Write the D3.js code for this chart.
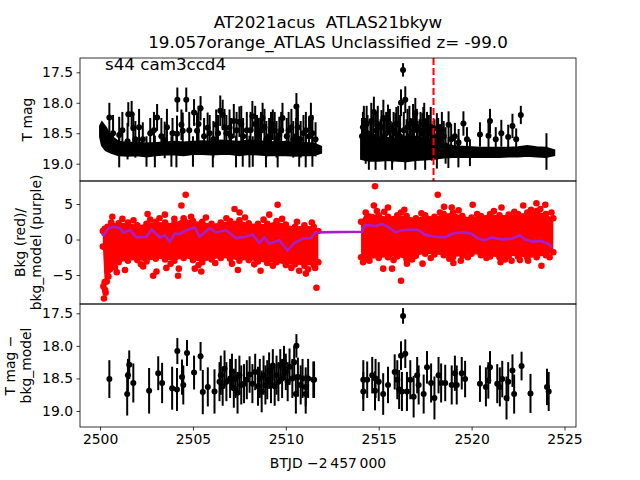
<!DOCTYPE html>
<html>
<head>
<meta charset="utf-8">
<script src="https://cdn.jsdelivr.net/npm/d3@7"></script>
<style>
  body { margin: 0; background: #fff; }
  text { font-family: "DejaVu Sans", sans-serif; white-space: pre; }
</style>
</head>
<body>
<div id="chart"></div>
<script>
// ---- data ----
const titleLines = ["AT2021acus  ATLAS21bkyw", "19.057orange_ATLAS Unclassified z= -99.0"];
const sectorLabel = "s44 cam3ccd4";
const discoveryT = 2517.95;
const xTicks = [2500, 2505, 2510, 2515, 2520, 2525];
const magTicks = [17.5, 18.0, 18.5, 19.0];
const bkgTicks = [-5, 0, 5];

// top panel: dense baseline of the light curve [btjd, faint edge, bright edge]
const magBand = [
  [2500.0, 18.56, 18.38], [2500.1, 18.70, 18.32], [2500.3, 18.78, 18.40], [2500.6, 18.82, 18.55],
  [2501.0, 18.86, 18.64], [2501.5, 18.87, 18.66], [2502.0, 18.86, 18.65], [2502.5, 18.88, 18.67],
  [2503.0, 18.86, 18.66], [2503.5, 18.85, 18.65], [2504.0, 18.85, 18.64], [2504.5, 18.86, 18.65],
  [2505.0, 18.84, 18.64], [2505.5, 18.84, 18.63], [2506.0, 18.85, 18.64], [2506.5, 18.84, 18.62],
  [2507.0, 18.84, 18.63], [2507.5, 18.86, 18.64], [2508.0, 18.84, 18.62], [2508.5, 18.85, 18.63],
  [2509.0, 18.86, 18.64], [2509.5, 18.86, 18.65], [2510.0, 18.86, 18.64], [2510.5, 18.87, 18.66],
  [2511.0, 18.86, 18.66], [2511.5, 18.86, 18.67], [2511.9, 18.82, 18.72],
  [2514.05, 18.92, 18.55], [2514.5, 18.95, 18.55], [2515.0, 18.95, 18.60], [2515.5, 18.94, 18.58],
  [2516.0, 18.95, 18.60], [2516.5, 18.96, 18.58], [2517.0, 18.94, 18.60], [2517.5, 18.93, 18.60],
  [2518.0, 18.92, 18.63], [2518.5, 18.90, 18.68], [2519.0, 18.89, 18.71], [2519.5, 18.89, 18.72],
  [2520.0, 18.89, 18.73], [2520.5, 18.89, 18.74], [2521.0, 18.89, 18.74], [2521.5, 18.89, 18.74],
  [2522.0, 18.88, 18.74], [2522.5, 18.88, 18.73], [2523.0, 18.87, 18.71], [2523.5, 18.88, 18.73],
  [2524.0, 18.89, 18.74], [2524.45, 18.86, 18.78]
];

// top panel: individual points with error bars [btjd, mag, err]
const magPoints = [
  [2500.50, 18.24, 0.24], [2501.03, 18.53, 0.30], [2501.48, 18.63, 0.30], [2501.52, 18.19, 0.20],
  [2501.70, 18.19, 0.22], [2501.79, 18.42, 0.25], [2502.30, 18.60, 0.28], [2502.70, 18.50, 0.25],
  [2503.07, 18.24, 0.22], [2503.30, 18.55, 0.30], [2503.48, 18.61, 0.30], [2503.90, 18.50, 0.25],
  [2504.14, 18.51, 0.30], [2504.16, 17.95, 0.20], [2504.38, 18.36, 0.25], [2504.45, 18.46, 0.30],
  [2504.64, 17.95, 0.20], [2505.06, 18.16, 0.22], [2505.22, 18.46, 0.30], [2505.41, 18.09, 0.20],
  [2505.60, 18.55, 0.30], [2505.79, 18.41, 0.25], [2506.10, 18.60, 0.30], [2506.25, 18.36, 0.25],
  [2506.47, 18.13, 0.25], [2506.60, 18.20, 0.25], [2506.80, 18.50, 0.30], [2506.97, 18.41, 0.30],
  [2507.20, 18.30, 0.28], [2507.50, 18.31, 0.25], [2507.70, 18.55, 0.30], [2507.90, 18.45, 0.30],
  [2508.20, 18.22, 0.25], [2508.45, 18.50, 0.30], [2508.66, 18.45, 0.30], [2508.75, 18.25, 0.25],
  [2508.95, 18.60, 0.30], [2509.20, 18.45, 0.30], [2509.30, 18.36, 0.25], [2509.50, 18.60, 0.30],
  [2509.65, 18.53, 0.30], [2509.82, 18.25, 0.25], [2510.05, 18.55, 0.30], [2510.30, 18.40, 0.30],
  [2510.55, 18.55, 0.30], [2510.57, 18.06, 0.22], [2510.80, 18.60, 0.30], [2511.08, 18.45, 0.30],
  [2511.35, 18.25, 0.25], [2511.43, 18.50, 0.30], [2511.60, 18.60, 0.28],
  [2500.70, 18.50, 0.30], [2501.20, 18.45, 0.30], [2501.90, 18.60, 0.30], [2502.10, 18.40, 0.30],
  [2502.90, 18.45, 0.30], [2503.60, 18.40, 0.30], [2504.80, 18.45, 0.30], [2505.30, 18.35, 0.30],
  [2505.90, 18.50, 0.30], [2506.35, 18.50, 0.30], [2506.70, 18.40, 0.30], [2507.05, 18.55, 0.30],
  [2507.35, 18.45, 0.30], [2507.60, 18.35, 0.30], [2508.10, 18.45, 0.30], [2508.35, 18.35, 0.30],
  [2508.55, 18.55, 0.30], [2508.85, 18.40, 0.30], [2509.10, 18.55, 0.30], [2509.40, 18.45, 0.30],
  [2509.75, 18.45, 0.30], [2510.15, 18.45, 0.30], [2510.40, 18.60, 0.30], [2510.65, 18.40, 0.30],
  [2510.95, 18.50, 0.30], [2511.25, 18.55, 0.30],
  [2501.03, 18.80, 0.26], [2502.50, 18.80, 0.25], [2502.95, 18.80, 0.26], [2503.84, 18.80, 0.25],
  [2504.11, 18.80, 0.26], [2505.00, 18.80, 0.25], [2506.07, 18.80, 0.26], [2507.32, 18.80, 0.26],
  [2507.68, 18.80, 0.25], [2508.04, 18.80, 0.26], [2508.22, 18.80, 0.25], [2508.93, 18.80, 0.26],
  [2509.56, 18.80, 0.26], [2510.72, 18.80, 0.25], [2511.07, 18.80, 0.26], [2511.43, 18.80, 0.25],
  [2514.10, 18.55, 0.30], [2514.15, 18.40, 0.25], [2514.20, 18.30, 0.25], [2514.30, 18.70, 0.30],
  [2514.40, 18.50, 0.30], [2514.55, 18.60, 0.30], [2514.74, 18.15, 0.25], [2514.85, 18.45, 0.30],
  [2515.00, 18.65, 0.30], [2515.15, 18.40, 0.28], [2515.30, 18.55, 0.30], [2515.50, 18.28, 0.25],
  [2515.65, 18.60, 0.30], [2515.80, 18.45, 0.30], [2515.95, 18.35, 0.28], [2516.10, 18.60, 0.30],
  [2516.20, 18.00, 0.22], [2516.31, 17.46, 0.11], [2516.43, 17.95, 0.22], [2516.55, 18.40, 0.30],
  [2516.70, 18.55, 0.30], [2516.85, 18.30, 0.28], [2516.97, 18.17, 0.25], [2517.10, 18.60, 0.30],
  [2517.25, 18.45, 0.30], [2517.40, 18.35, 0.28], [2517.55, 18.60, 0.30], [2517.70, 18.50, 0.30],
  [2517.85, 18.65, 0.30], [2518.00, 18.55, 0.28], [2518.13, 18.42, 0.25], [2518.30, 18.60, 0.25],
  [2518.50, 18.55, 0.25], [2518.76, 18.36, 0.22], [2518.90, 18.60, 0.25], [2519.10, 18.55, 0.22],
  [2519.30, 18.65, 0.22], [2519.56, 18.34, 0.20], [2519.75, 18.60, 0.20], [2520.45, 18.52, 0.20],
  [2520.91, 18.54, 0.22], [2520.99, 18.30, 0.20], [2521.30, 18.60, 0.20], [2521.60, 18.50, 0.22],
  [2521.97, 18.56, 0.20], [2522.20, 18.38, 0.20], [2522.40, 18.60, 0.18], [2522.65, 18.20, 0.15],
  [2514.25, 18.60, 0.35], [2514.35, 18.35, 0.30], [2514.60, 18.30, 0.30], [2514.70, 18.55, 0.35],
  [2514.95, 18.35, 0.30], [2515.10, 18.60, 0.33], [2515.25, 18.25, 0.30], [2515.40, 18.50, 0.35],
  [2515.60, 18.40, 0.30], [2515.75, 18.65, 0.33], [2515.90, 18.50, 0.33], [2516.05, 18.35, 0.30],
  [2516.15, 18.55, 0.35], [2516.35, 18.45, 0.30], [2516.50, 18.60, 0.33], [2516.65, 18.35, 0.30],
  [2516.80, 18.60, 0.33], [2516.90, 18.45, 0.30], [2517.05, 18.40, 0.30], [2517.20, 18.60, 0.33],
  [2517.35, 18.50, 0.33], [2517.45, 18.30, 0.30], [2517.60, 18.45, 0.30], [2517.80, 18.40, 0.33],
  [2517.95, 18.60, 0.30], [2518.20, 18.55, 0.30], [2518.40, 18.45, 0.30], [2518.60, 18.70, 0.30],
  [2514.47, 18.82, 0.28], [2514.83, 18.82, 0.28], [2515.36, 18.82, 0.28], [2515.72, 18.82, 0.28],
  [2516.43, 18.82, 0.28], [2516.97, 18.82, 0.28], [2517.50, 18.82, 0.28], [2518.13, 18.82, 0.26],
  [2518.75, 18.82, 0.25], [2519.29, 18.82, 0.24], [2519.91, 18.82, 0.22], [2524.03, 18.80, 0.30]
];

// middle panel: dense background cloud [btjd, low edge, high edge]
const bkgBand = [
  [2500.15, -1.0, 1.2], [2500.25, -6.0, 1.5], [2500.4, -4.5, 1.8], [2500.6, -3.8, 2.4],
  [2501.0, -3.2, 2.3], [2501.5, -3.0, 2.4], [2502.0, -2.9, 2.0], [2502.5, -3.1, 2.2],
  [2503.0, -2.7, 2.5], [2503.5, -2.8, 2.4], [2504.0, -3.0, 2.3], [2504.5, -2.6, 3.0],
  [2505.0, -2.9, 2.6], [2505.5, -3.2, 2.5], [2506.0, -2.8, 2.2], [2506.5, -2.6, 2.4],
  [2507.0, -2.7, 2.6], [2507.5, -3.0, 2.7], [2508.0, -2.9, 2.3], [2508.5, -3.1, 2.2],
  [2509.0, -3.3, 2.2], [2509.5, -3.2, 2.6], [2510.0, -3.6, 2.1], [2510.5, -3.5, 1.8],
  [2511.0, -3.7, 2.0], [2511.5, -3.6, 1.8], [2511.75, -3.2, 1.2],
  [2514.05, -2.5, 2.5], [2514.3, -2.8, 3.8], [2515.0, -2.6, 3.4], [2515.5, -2.5, 3.2],
  [2516.0, -2.4, 3.4], [2516.5, -2.8, 3.3], [2517.0, -2.3, 3.0], [2517.5, -2.0, 3.4],
  [2518.0, -2.1, 3.2], [2518.5, -2.2, 3.6], [2519.0, -2.5, 3.8], [2519.5, -2.3, 3.3],
  [2520.0, -2.0, 3.1], [2520.5, -2.2, 3.3], [2521.0, -2.4, 3.6], [2521.5, -2.5, 3.4],
  [2522.0, -2.3, 3.5], [2522.5, -2.4, 3.6], [2523.0, -2.6, 3.8], [2523.5, -2.5, 4.0],
  [2524.0, -2.2, 3.6], [2524.4, -1.8, 3.0]
];

// middle panel: scattered background points [btjd, bkg]
const bkgPoints = [
  [2500.18, -6.6], [2500.21, -8.3], [2500.27, -7.1], [2500.30, -7.5], [2500.36, -5.9], [2500.45, -5.2],
  [2500.54, -4.2], [2500.66, 3.2], [2500.90, -4.6], [2501.34, -4.3], [2502.32, -3.8], [2502.56, 3.6],
  [2502.86, -5.1], [2503.04, -4.5], [2503.49, 3.5], [2503.57, -4.0], [2504.20, -5.1], [2504.24, -4.1],
  [2504.38, 4.8], [2504.61, 6.3], [2505.10, -4.1], [2505.45, -4.5], [2507.24, 4.3], [2507.42, -4.3],
  [2507.51, 3.8], [2508.64, -4.4], [2509.11, 3.5], [2509.56, 4.9], [2510.72, -4.4], [2511.08, -4.8],
  [2511.58, -4.0], [2511.65, -6.8],
  [2500.80, -3.9], [2501.20, 2.9], [2501.80, 2.7], [2502.20, -3.5], [2502.70, 2.8], [2503.20, 3.0],
  [2503.80, -3.4], [2504.00, 2.9], [2504.90, 3.2], [2505.30, -3.6], [2505.70, 3.1], [2506.20, -3.3],
  [2506.80, 3.0], [2507.10, -3.4], [2507.80, 3.1], [2508.30, -3.5], [2508.80, 2.8], [2509.30, -3.7],
  [2509.80, 2.9], [2510.30, -4.0], [2510.60, 2.5], [2511.20, -4.2], [2511.40, 2.4],
  [2514.16, -3.2], [2514.74, 4.8], [2514.80, 7.5], [2515.24, -4.1], [2515.50, 4.5], [2515.72, -4.1],
  [2516.20, -5.8], [2516.38, 4.2], [2516.52, -3.4], [2517.36, -3.4], [2518.18, 6.3], [2518.52, 4.6],
  [2518.93, 4.5], [2519.02, -3.3], [2519.42, -3.0], [2520.06, 4.9], [2521.56, -3.2], [2521.61, 4.5],
  [2522.15, -3.0], [2522.78, 4.8], [2523.04, -3.0], [2523.49, 5.1], [2523.76, -3.7], [2523.97, 4.9],
  [2514.50, -3.0], [2514.90, 4.0], [2515.30, 3.9], [2515.80, -2.9], [2516.20, 3.8], [2516.80, -2.8],
  [2517.30, 3.7], [2517.80, -2.6], [2518.30, 3.8], [2518.80, -2.7], [2519.30, 4.1], [2519.80, -2.5],
  [2520.30, 3.6], [2520.80, -2.6], [2521.20, 4.0], [2521.80, -2.8], [2522.30, 3.9], [2522.60, -2.9],
  [2523.20, 4.2], [2523.70, 4.3], [2524.20, -2.5], [2524.30, 3.8]
];

// middle panel: background model [btjd, bkg_model]
const modelPoints = [
  [2500.09, 0.8], [2500.20, 0.6], [2500.45, 1.6], [2500.71, 1.8], [2501.07, 1.6], [2501.25, 1.0],
  [2501.61, 1.3], [2501.96, 0.3], [2502.50, 0.4], [2502.77, 1.4], [2503.22, 0.3], [2503.48, 0.6],
  [2503.75, -0.3], [2504.02, 0.8], [2504.29, 0.8], [2504.64, 1.3], [2505.09, 1.7], [2505.36, 0.4],
  [2505.89, 1.6], [2506.25, 1.0], [2506.79, 1.3], [2507.32, 0.2], [2507.86, 0.4], [2508.22, 0.7],
  [2508.57, -0.5], [2508.84, 0.3], [2509.11, -0.6], [2509.65, -0.1], [2510.09, -1.55], [2510.45, -0.5],
  [2510.90, 0.1], [2511.34, 0.2], [2511.61, 1.0], [2514.11, 1.1],
  [2514.26, 2.0], [2514.47, 2.0], [2514.83, 1.9], [2515.18, 2.2], [2515.54, 1.7], [2515.90, 1.0],
  [2516.25, 1.3], [2516.79, 1.4], [2517.15, 1.3], [2517.51, 0.65], [2518.04, 0.4], [2518.58, 0.3],
  [2518.93, 0.8], [2519.47, 1.0], [2520.00, 0.8], [2520.36, 0.1], [2520.72, -0.1], [2521.08, 0.3],
  [2521.61, 0.0], [2522.15, 0.1], [2522.60, 0.6], [2522.87, 0.0], [2523.31, -0.3], [2523.76, -0.2],
  [2524.12, -0.6], [2524.33, -1.1]
];

// bottom panel: T mag minus background model [btjd, mag, err]
const diffPoints = [
  [2500.50, 18.51, 0.29], [2501.46, 18.74, 0.33], [2501.50, 18.45, 0.25], [2501.57, 18.29, 0.22],
  [2501.79, 18.57, 0.30], [2502.64, 18.69, 0.35], [2503.13, 18.42, 0.26], [2503.34, 18.57, 0.31],
  [2503.88, 18.65, 0.33], [2504.14, 18.67, 0.33], [2504.16, 18.08, 0.20], [2504.41, 18.48, 0.27],
  [2504.48, 18.60, 0.30], [2504.68, 18.11, 0.20], [2505.06, 18.41, 0.26], [2505.41, 18.16, 0.22],
  [2505.53, 18.71, 0.34], [2505.80, 18.63, 0.30], [2506.16, 18.70, 0.34], [2506.43, 18.55, 0.30],
  [2506.50, 18.45, 0.30], [2506.60, 18.62, 0.30], [2506.70, 18.35, 0.28], [2506.80, 18.55, 0.30],
  [2507.00, 18.50, 0.30], [2507.10, 18.40, 0.28], [2507.20, 18.65, 0.30], [2507.30, 18.50, 0.30],
  [2507.40, 18.72, 0.32], [2507.50, 18.45, 0.30], [2507.60, 18.60, 0.30], [2507.75, 18.58, 0.30],
  [2507.90, 18.52, 0.30], [2508.05, 18.44, 0.28], [2508.20, 18.58, 0.30], [2508.35, 18.40, 0.28],
  [2508.50, 18.62, 0.30], [2508.60, 18.50, 0.30], [2508.70, 18.70, 0.32], [2508.80, 18.45, 0.30],
  [2508.90, 18.60, 0.30], [2509.00, 18.52, 0.30], [2509.10, 18.38, 0.28], [2509.20, 18.58, 0.30],
  [2509.30, 18.30, 0.25], [2509.40, 18.62, 0.30], [2509.50, 18.45, 0.30], [2509.60, 18.55, 0.30],
  [2509.70, 18.30, 0.25], [2509.80, 18.50, 0.30], [2509.90, 18.25, 0.25], [2510.00, 18.40, 0.28],
  [2510.10, 18.55, 0.30], [2510.20, 18.32, 0.28], [2510.35, 18.50, 0.30], [2510.45, 18.25, 0.25],
  [2510.54, 18.74, 0.30], [2510.57, 18.00, 0.18], [2510.65, 18.48, 0.30], [2510.80, 18.60, 0.30],
  [2510.90, 18.50, 0.30], [2511.07, 18.74, 0.30], [2511.07, 18.63, 0.30], [2511.20, 18.50, 0.30],
  [2511.48, 18.52, 0.28], [2511.52, 18.52, 0.28],
  [2514.17, 18.52, 0.30], [2514.17, 18.70, 0.30], [2514.38, 18.52, 0.28], [2514.65, 18.45, 0.28],
  [2514.80, 18.69, 0.30], [2514.83, 18.50, 0.30], [2515.00, 18.55, 0.30], [2515.24, 18.74, 0.32],
  [2515.50, 18.60, 0.28], [2515.86, 18.40, 0.27], [2516.00, 18.52, 0.30], [2516.10, 18.67, 0.30],
  [2516.20, 18.15, 0.22], [2516.25, 18.70, 0.30], [2516.31, 17.54, 0.12], [2516.43, 18.12, 0.22],
  [2516.52, 18.70, 0.30], [2516.70, 18.52, 0.30], [2516.88, 18.78, 0.32], [2517.07, 18.45, 0.28],
  [2517.15, 18.60, 0.30], [2517.42, 18.74, 0.30], [2517.60, 18.33, 0.25], [2517.82, 18.57, 0.30],
  [2518.00, 18.80, 0.33], [2518.22, 18.45, 0.28], [2518.36, 18.57, 0.30], [2518.58, 18.57, 0.28],
  [2518.93, 18.60, 0.30], [2519.10, 18.42, 0.27], [2519.20, 18.60, 0.30], [2519.47, 18.42, 0.25],
  [2519.65, 18.51, 0.28], [2520.45, 18.58, 0.28], [2520.77, 18.63, 0.30], [2520.90, 18.53, 0.28],
  [2520.99, 18.33, 0.25], [2521.38, 18.58, 0.30], [2521.52, 18.63, 0.30], [2521.65, 18.51, 0.28],
  [2521.88, 18.80, 0.33], [2521.97, 18.55, 0.30], [2522.20, 18.38, 0.25], [2522.29, 18.74, 0.30],
  [2522.69, 18.31, 0.22], [2523.17, 18.73, 0.30], [2524.06, 18.63, 0.28], [2524.15, 18.70, 0.30]
];

// ---- layout ----
const W = 640, H = 480;
const left = 80, right = 576;
const panels = [[58, 181], [181, 304], [304, 427]];

const svg = d3.select("#chart").append("svg")
    .attr("width", W)
    .attr("height", H);

const x = d3.scaleLinear().domain([2498.92, 2525.62]).range([left, right]);
const yMag = d3.scaleLinear().domain([17.265, 19.284]).range([58, 181]);
const yBkg = d3.scaleLinear().domain([-9.08, 8.24]).range([304, 181]);
const yDiff = d3.scaleLinear().domain([17.357, 19.246]).range([304, 427]);

panels.forEach((p, i) => {
    svg.append("clipPath").attr("id", "clip" + i)
        .append("rect").attr("x", left).attr("y", p[0]).attr("width", right - left).attr("height", p[1] - p[0]);
});

// split a time-sorted list wherever the gap is more than a day
function segments(rows) {
    let segs = [[]];
    rows.forEach((r, i) => {
        if (i > 0 && r[0] - rows[i - 1][0] > 1) segs.push([]);
        segs[segs.length - 1].push(r);
    });
    return segs;
}

function errorPoints(g, rows, y) {
    g.selectAll("line.err").data(rows).enter().append("line")
        .attr("class", "err")
        .attr("x1", d => x(d[0])).attr("x2", d => x(d[0]))
        .attr("y1", d => y(d[1] - d[2])).attr("y2", d => y(d[1] + d[2]))
        .attr("stroke", "#000").attr("stroke-width", 2);
    g.selectAll("circle").data(rows).enter().append("circle")
        .attr("cx", d => x(d[0])).attr("cy", d => y(d[1]))
        .attr("r", 3).attr("fill", "#000");
}

// top panel
let g1 = svg.append("g").attr("clip-path", "url(#clip0)");
let magArea = d3.area().x(d => x(d[0])).y0(d => yMag(d[1])).y1(d => yMag(d[2]));
segments(magBand).forEach(s => {
    g1.append("path").attr("d", magArea(s)).attr("fill", "#000").attr("stroke", "#000").attr("stroke-width", 2);
});
errorPoints(g1, magPoints, yMag);
g1.append("line")
    .attr("x1", x(discoveryT)).attr("x2", x(discoveryT))
    .attr("y1", 58).attr("y2", 181)
    .attr("stroke", "red").attr("stroke-width", 2)
    .attr("stroke-dasharray", "7,3");

// middle panel
let g2 = svg.append("g").attr("clip-path", "url(#clip1)");
let bkgArea = d3.area().x(d => x(d[0])).y0(d => yBkg(d[1])).y1(d => yBkg(d[2]));
segments(bkgBand).forEach(s => {
    g2.append("path").attr("d", bkgArea(s)).attr("fill", "red");
});
g2.selectAll("circle.lo").data(bkgBand).enter().append("circle")
    .attr("cx", d => x(d[0])).attr("cy", d => yBkg(d[1])).attr("r", 3.3).attr("fill", "red");
g2.selectAll("circle.hi").data(bkgBand).enter().append("circle")
    .attr("cx", d => x(d[0])).attr("cy", d => yBkg(d[2])).attr("r", 3.3).attr("fill", "red");
g2.selectAll("circle.pt").data(bkgPoints).enter().append("circle")
    .attr("cx", d => x(d[0])).attr("cy", d => yBkg(d[1])).attr("r", 3.3).attr("fill", "red");
g2.append("path")
    .attr("d", d3.line().x(d => x(d[0])).y(d => yBkg(d[1]))(modelPoints))
    .attr("fill", "none").attr("stroke", "#a81ec8").attr("stroke-width", 2.6);

// bottom panel
let g3 = svg.append("g").attr("clip-path", "url(#clip2)");
errorPoints(g3, diffPoints, yDiff);

// axes
function styleAxis(a) {
    a.select(".domain").remove();
    a.attr("font-size", 13.9).attr("font-family", "DejaVu Sans");
    a.selectAll("line").attr("stroke-width", 0.8);
}
svg.append("g").attr("transform", "translate(" + left + ",0)")
    .call(d3.axisLeft(yMag).tickValues(magTicks).tickFormat(d3.format(".1f")).tickSize(3.5).tickPadding(3.5))
    .call(styleAxis);
svg.append("g").attr("transform", "translate(" + left + ",0)")
    .call(d3.axisLeft(yBkg).tickValues(bkgTicks).tickFormat(d3.format("d")).tickSize(3.5).tickPadding(3.5))
    .call(styleAxis);
svg.append("g").attr("transform", "translate(" + left + ",0)")
    .call(d3.axisLeft(yDiff).tickValues(magTicks).tickFormat(d3.format(".1f")).tickSize(3.5).tickPadding(3.5))
    .call(styleAxis);
svg.append("g").attr("transform", "translate(0,427)")
    .call(d3.axisBottom(x).tickValues(xTicks).tickFormat(d3.format("d")).tickSize(3.5).tickPadding(3.5))
    .call(styleAxis);

panels.forEach(p => {
    svg.append("rect")
        .attr("x", left).attr("y", p[0])
        .attr("width", right - left).attr("height", p[1] - p[0])
        .attr("fill", "none").attr("stroke", "#000").attr("stroke-width", 0.8);
});

// texts
titleLines.forEach((t, i) => {
    svg.append("text").attr("x", 328).attr("y", 28 + i * 20)
        .attr("text-anchor", "middle").attr("font-size", 16.7).text(t);
});
svg.append("text").attr("x", 105).attr("y", 70).attr("font-size", 16.7).text(sectorLabel);

function yLabel(lines, cx, cy) {
    let t = svg.append("text")
        .attr("transform", "translate(" + cx + "," + cy + ") rotate(-90)")
        .attr("text-anchor", "middle").attr("font-size", 13.9);
    lines.forEach((l, i) => {
        t.append("tspan").attr("x", 0).attr("y", (i - (lines.length - 1) / 2) * 16.2 + 5).text(l);
    });
}
yLabel(["T mag"], 27, 119.5);
yLabel(["Bkg (red)/", "bkg_model (purple)"], 28, 242.5);
yLabel(["T mag \u2212", "bkg_model"], 18, 365.5);

svg.append("text").attr("x", 328).attr("y", 468)
    .attr("text-anchor", "middle").attr("font-size", 13.9)
    .text("BTJD \u22122\u2009457\u2009000");
</script>
</body>
</html>
